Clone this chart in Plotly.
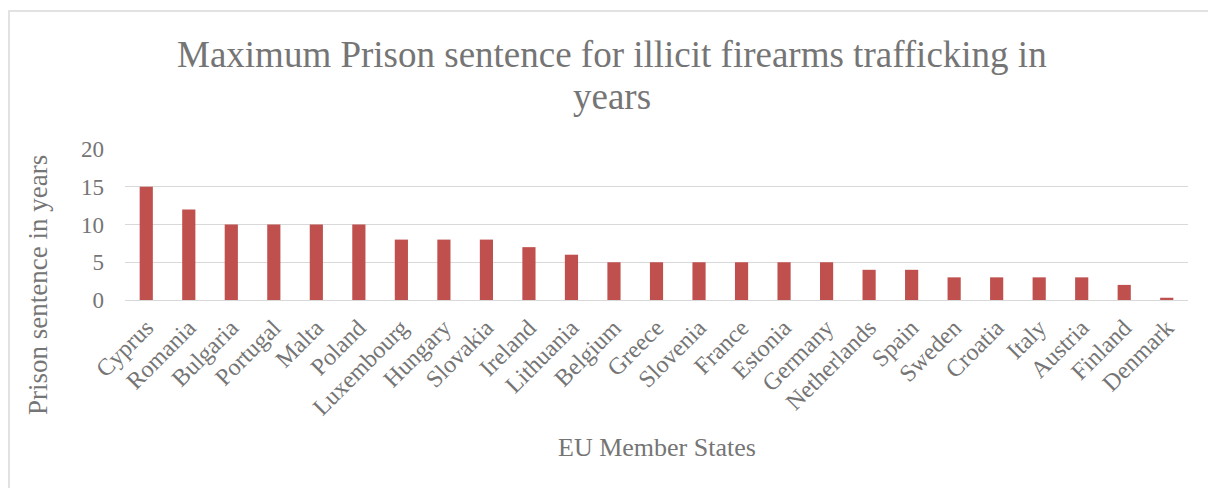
import plotly.graph_objects as go

countries = ["Cyprus", "Romania", "Bulgaria", "Portugal", "Malta", "Poland", "Luxembourg",
             "Hungary", "Slovakia", "Ireland", "Lithuania", "Belgium", "Greece", "Slovenia",
             "France", "Estonia", "Germany", "Netherlands", "Spain", "Sweden", "Croatia",
             "Italy", "Austria", "Finland", "Denmark"]
years = [15, 12, 10, 10, 10, 10, 8, 8, 8, 7, 6, 5, 5, 5, 5, 5, 5, 4, 4, 3, 3, 3, 3, 2, 0.3]
y_ticks = [0, 5, 10, 15, 20]
title_lines = ["Maximum Prison sentence for illicit firearms trafficking in", "years"]

FONT = "Liberation Serif, Times New Roman, serif"
GREY = "#757575"

# page body has an 8px margin; work in figure pixels
OFF = 8
W, H = 1216 - OFF, 488 - OFF
L, R, T, B = 125 - OFF, W - (1188 - OFF), 149 - OFF, H - (300 - OFF)
pw, ph = W - L - R, H - T - B


def px(sx):
    return (sx - OFF - L) / pw


def py(sy):
    return (H - B - (sy - OFF)) / ph


fig = go.Figure(go.Bar(x=countries, y=years, marker=dict(color="#C0504D", line=dict(width=0))))

annotations = [
    dict(text=title_lines[0], x=px(612), y=py(55), font=dict(family=FONT, size=37, color=GREY)),
    dict(text=title_lines[1], x=px(612), y=py(96), font=dict(family=FONT, size=37, color=GREY)),
    dict(text="EU Member States", x=px(657), y=py(447), font=dict(family=FONT, size=26, color=GREY)),
    dict(text="Prison sentence in years", x=px(38), y=py(285), textangle=-90,
         font=dict(family=FONT, size=27, color=GREY)),
]
for a in annotations:
    a.update(xref="paper", yref="paper", showarrow=False, xanchor="center", yanchor="middle")

fig.update_layout(
    width=W, height=H,
    margin=dict(l=L, r=R, t=T, b=B, autoexpand=False),
    paper_bgcolor="white", plot_bgcolor="white",
    bargap=0.69,
    showlegend=False,
    font=dict(family=FONT, color=GREY),
    xaxis=dict(tickangle=-45, tickfont=dict(family=FONT, size=24, color=GREY),
               showgrid=False, showline=False, ticks="", zeroline=False,
               ticklabelstandoff=8),
    yaxis=dict(range=[0, 20], tickvals=y_ticks, tickfont=dict(family=FONT, size=23, color=GREY),
               showgrid=True, gridcolor="#d9d9d9", gridwidth=1.3, zeroline=True,
               zerolinecolor="#d9d9d9", zerolinewidth=1.3, showline=False, ticks="",
               ticklabelstandoff=20),
    annotations=annotations,
    shapes=[dict(type="rect", xref="paper", yref="paper",
                 x0=px(9), x1=px(1240), y0=py(520), y1=py(11),
                 line=dict(color="#d9d9d9", width=1.5), fillcolor="rgba(0,0,0,0)", layer="below")],
)

fig.write_html("out.html")
